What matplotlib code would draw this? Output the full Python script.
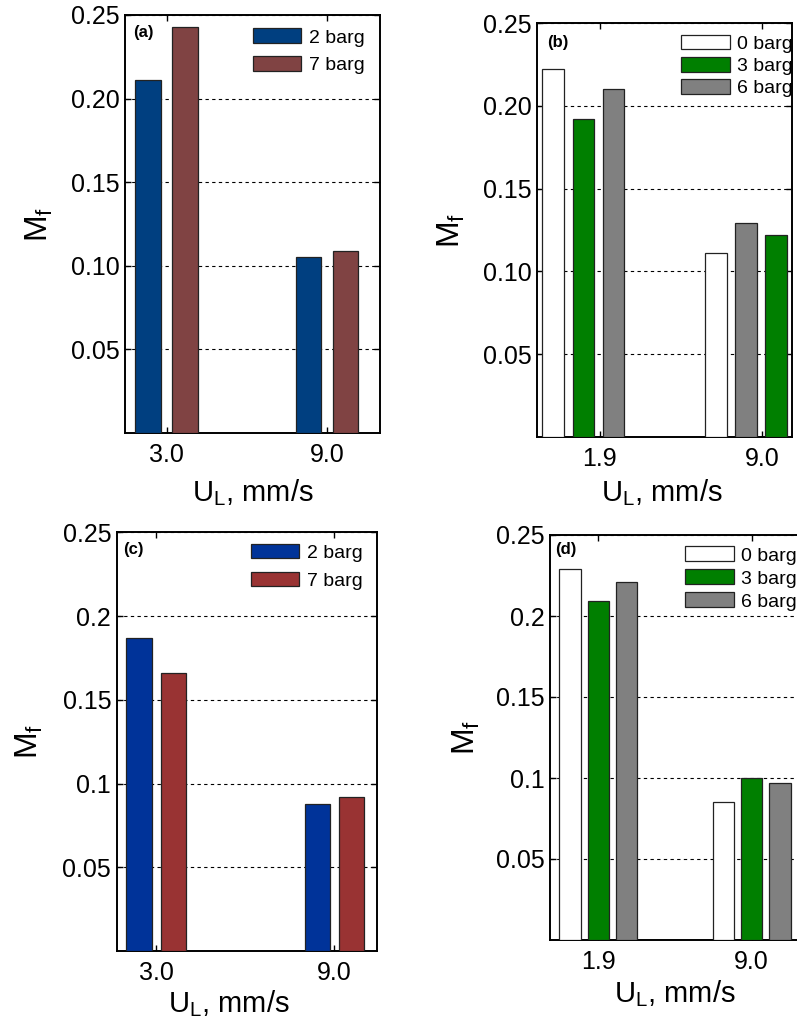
import matplotlib
matplotlib.use('Agg')
import matplotlib.pyplot as plt
from matplotlib.patches import Patch

plt.rcParams['font.family'] = ['Liberation Sans', 'DejaVu Sans']
plt.rcParams['mathtext.fontset'] = 'custom'
plt.rcParams['mathtext.rm'] = 'Liberation Sans'
plt.rcParams['mathtext.it'] = 'Liberation Sans'

# ---------------- data ----------------
a_groups = ['3.0', '9.0']
a_series = ['2 barg', '7 barg']
a_2barg = [0.211, 0.105]
a_7barg = [0.243, 0.109]

b_groups = ['1.9', '9.0']
b_series = ['0 barg', '3 barg', '6 barg']
b_0barg = [0.222, 0.111]
b_3barg = [0.192, 0.122]
b_6barg = [0.210, 0.129]

c_groups = ['3.0', '9.0']
c_series = ['2 barg', '7 barg']
c_2barg = [0.187, 0.088]
c_7barg = [0.166, 0.092]

d_groups = ['1.9', '9.0']
d_series = ['0 barg', '3 barg', '6 barg']
d_0barg = [0.229, 0.085]
d_3barg = [0.209, 0.100]
d_6barg = [0.221, 0.097]

y_ticks = [0.05, 0.10, 0.15, 0.20, 0.25]
y_labels_top = ['0.05', '0.10', '0.15', '0.20', '0.25']
y_labels_bottom = ['0.05', '0.1', '0.15', '0.2', '0.25']
panel_tags = ['(a)', '(b)', '(c)', '(d)']

W, H = 797, 1023
fig = plt.figure(figsize=(W / 100, H / 100), dpi=100)


def rect(left, top, w, h):
    return [left / W, 1 - (top + h) / H, w / W, h / H]


def panel(r, groups, series, values, colors, offsets, width, xlim, ticks,
          ylabels, tag, tag_xy, leg_xy, ylab_x, xlab_xy, slots=None,
          leg_fs=13, leg_spacing=0.3):
    ax = fig.add_axes(r)
    ng = len(groups)
    for s, (name, vals, col) in enumerate(zip(series, values, colors)):
        for g in range(ng):
            slot = slots[g][s] if slots else s
            ax.bar(g + offsets[slot], vals[g], width=width, color=col,
                   edgecolor='#222222', linewidth=0.9, zorder=3)
    ax.set_xlim(*xlim)
    ax.set_ylim(0, 0.25)
    ax.set_xticks(ticks)
    ax.set_xticklabels(groups)
    ax.set_yticks(y_ticks)
    ax.set_yticklabels(ylabels)
    ax.tick_params(direction='in', top=True, right=True, length=4, width=1,
                   labelsize=18, color='black')
    ax.tick_params(axis='x', pad=7)
    ax.tick_params(axis='y', pad=4)
    ax.yaxis.grid(True, linestyle=(0, (3, 3)), color='black', linewidth=0.8)
    ax.set_axisbelow(True)
    for sp in ax.spines.values():
        sp.set_linewidth(1.4)
        sp.set_color('black')
    ax.set_ylabel(r'$\mathregular{M_f}$', fontsize=23)
    ax.yaxis.set_label_coords(ylab_x, 0.5)
    ax.set_xlabel(r'$\mathregular{U_L}$, mm/s', fontsize=21)
    ax.xaxis.set_label_coords(*xlab_xy)
    ax.text(tag_xy[0], tag_xy[1], tag, transform=ax.transAxes, fontsize=12,
            fontweight='bold', ha='left', va='center')
    handles = [Patch(facecolor=c, edgecolor='#222222', linewidth=0.9)
               for c in colors]
    ax.legend(handles, series, loc='upper left', bbox_to_anchor=leg_xy,
              frameon=False, fontsize=leg_fs, borderaxespad=0, borderpad=0,
              handlelength=2.5, handleheight=0.8, handletextpad=0.4,
              labelspacing=leg_spacing)
    return ax


panel(rect(125, 15, 255, 418), a_groups, a_series, [a_2barg, a_7barg],
      ['#003F80', '#804343'], [-0.115, 0.115], 0.16, (-0.26, 1.33), [0, 1],
      y_labels_top, panel_tags[0], (0.03, 0.957), (0.50, 0.968), -0.275,
      (0.5, -0.105), leg_fs=14, leg_spacing=0.5)

panel(rect(537, 23, 255, 414), b_groups, b_series, [b_0barg, b_3barg, b_6barg],
      ['white', '#007F00', '#808080'], [-0.185, 0.0, 0.185], 0.133,
      (-0.285, 1.284), [0.1, 1.1], y_labels_top, panel_tags[1],
      (0.038, 0.952), (0.565, 0.972), -0.275, (0.49, -0.098),
      slots=[[0, 1, 2], [0, 2, 1]], leg_fs=14, leg_spacing=0.2)

panel(rect(116.7, 532.3, 260, 418.7), c_groups, c_series, [c_2barg, c_7barg],
      ['#003399', '#993333'], [-0.096, 0.096], 0.143, (-0.222, 1.237), [0, 1],
      y_labels_bottom, panel_tags[2], (0.023, 0.958), (0.515, 0.973), -0.275,
      (0.432, -0.088), leg_fs=14, leg_spacing=0.5)

panel(rect(550, 535, 262, 405), d_groups, d_series, [d_0barg, d_3barg, d_6barg],
      ['white', '#007F00', '#808080'], [-0.185, 0.0, 0.185], 0.139,
      (-0.315, 1.393), [0, 1], y_labels_bottom, panel_tags[3],
      (0.019, 0.963), (0.515, 0.972), -0.26, (0.475, -0.094),
      leg_fs=14, leg_spacing=0.25)

fig.savefig('out.png', dpi=100)
